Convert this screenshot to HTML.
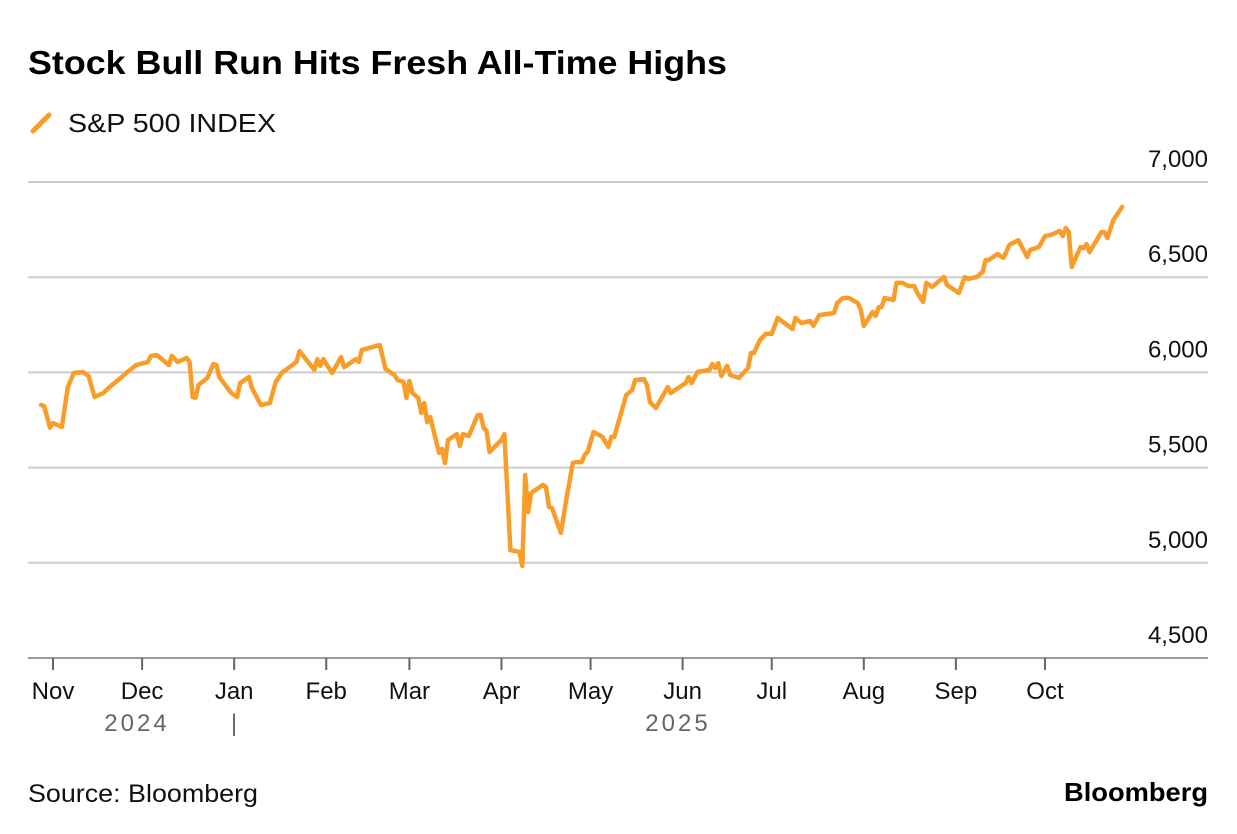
<!DOCTYPE html>
<html><head><meta charset="utf-8"><style>
html,body{margin:0;padding:0;background:#fff;}
svg{display:block;font-family:"Liberation Sans",Arial,sans-serif;}
</style></head><body>
<svg id="chart" width="1237" height="834" viewBox="0 0 1237 834" xmlns="http://www.w3.org/2000/svg">
<text x="28" y="74" font-size="33" font-weight="bold" fill="#000" textLength="699" lengthAdjust="spacingAndGlyphs">Stock Bull Run Hits Fresh All-Time Highs</text>
<g>
<line x1="33" y1="131" x2="49" y2="115" stroke="#F99D2A" stroke-width="5" stroke-linecap="round"/>
<text x="68" y="132" font-size="26" fill="#111" textLength="208" lengthAdjust="spacingAndGlyphs">S&amp;P 500 INDEX</text>
</g>
<g id="grid"></g>
<g id="xaxis"></g>
<path id="line" fill="none" stroke="#F99D2A" stroke-width="4.5" stroke-linejoin="round" stroke-linecap="round"/>
<text x="137" y="731" font-size="24" fill="#666" text-anchor="middle" letter-spacing="3">2024</text>
<text x="234" y="731" font-size="24" fill="#666" text-anchor="middle">|</text>
<text x="678" y="731" font-size="24" fill="#666" text-anchor="middle" letter-spacing="3">2025</text>
<text x="28" y="802" font-size="25" fill="#111" textLength="230" lengthAdjust="spacingAndGlyphs">Source: Bloomberg</text>
<text x="1064" y="801" font-size="26" font-weight="bold" fill="#000" textLength="144" lengthAdjust="spacingAndGlyphs">Bloomberg</text>
</svg>
<script>
const days = [-4,-3,-1,0,3,5,7,10,12,14,17,19,22,25,26,28,32,33,35,39,40,42,45,46,47,48,49,52,54,55,56,60,62,63,66,67,70,73,75,77,82,83,88,89,90,91,94,97,98,102,103,104,110,112,115,116,118,119,120,121,123,124,125,126,127,130,131,132,133,136,137,138,140,143,144,145,146,147,151,152,154,157,158,159,160,161,165,166,167,168,171,173,175,176,178,179,180,182,185,187,188,189,193,195,196,199,200,201,203,207,208,210,213,214,215,217,221,222,223,224,225,227,228,231,234,235,236,238,240,242,244,249,250,252,255,256,258,263,264,266,268,271,272,273,276,277,278,279,280,283,284,286,288,290,291,293,294,296,300,301,305,307,308,311,313,314,315,318,320,322,325,328,329,332,334,336,339,340,341,342,343,346,347,348,349,353,354,355,357,360];
const values = [5829,5823,5710,5734,5713,5923,5997,6002,5981,5871,5892,5923,5960,6002,6013,6039,6055,6086,6091,6039,6086,6055,6076,6055,5871,5866,5934,5971,6044,6039,5976,5892,5871,5944,5976,5918,5829,5839,5950,5997,6055,6112,6013,6070,6034,6070,5997,6081,6028,6070,6055,6118,6144,6018,5986,5960,5950,5866,5955,5892,5866,5787,5839,5739,5766,5577,5598,5524,5645,5676,5613,5676,5666,5776,5776,5708,5692,5582,5645,5676,5067,5057,4983,5461,5267,5367,5409,5398,5293,5288,5157,5346,5524,5529,5529,5566,5582,5687,5661,5608,5661,5661,5881,5908,5960,5965,5934,5844,5813,5923,5892,5913,5944,5976,5944,6002,6013,6044,6023,6049,5981,6034,5986,5971,6023,6102,6102,6170,6202,6202,6286,6228,6286,6259,6270,6244,6301,6312,6364,6391,6391,6364,6328,6244,6317,6296,6343,6343,6391,6380,6470,6470,6454,6454,6417,6370,6470,6449,6501,6459,6417,6501,6491,6501,6527,6590,6590,6622,6601,6669,6695,6606,6643,6659,6716,6722,6743,6716,6758,6737,6554,6659,6653,6674,6632,6737,6737,6706,6800,6869];
const yTicks = [4500,5000,5500,6000,6500,7000];
const yTickLabels = ["4,500","5,000","5,500","6,000","6,500","7,000"];
const monthLabels = ["Nov","Dec","Jan","Feb","Mar","Apr","May","Jun","Jul","Aug","Sep","Oct"];
const monthDays = [0,30,61,92,120,151,181,212,242,273,304,334];

const NS = "http://www.w3.org/2000/svg";
function xScale(d){ return 53 + d*2.97; }
function yScale(v){ return 658 - (v-4500)*95.2/500; }

const grid = document.getElementById('grid');
yTicks.forEach((t,i)=>{
  const y = yScale(t);
  const ln = document.createElementNS(NS,'line');
  ln.setAttribute('x1',28); ln.setAttribute('x2',1208);
  ln.setAttribute('y1',y); ln.setAttribute('y2',y);
  ln.setAttribute('stroke', i===0 ? '#999' : '#ccc');
  ln.setAttribute('stroke-width', 2);
  
  
  grid.appendChild(ln);
  const tx = document.createElementNS(NS,'text');
  tx.setAttribute('x',1208); tx.setAttribute('y',y-15);
  tx.setAttribute('text-anchor','end');
  tx.setAttribute('font-size','24'); tx.setAttribute('fill','#111');
  tx.textContent = yTickLabels[i];
  
  
  grid.appendChild(tx);
});

const xa = document.getElementById('xaxis');
monthDays.forEach((d,i)=>{
  const x = xScale(d);
  const tk = document.createElementNS(NS,'line');
  tk.setAttribute('x1',x); tk.setAttribute('x2',x);
  tk.setAttribute('y1',658); tk.setAttribute('y2',670);
  tk.setAttribute('stroke','#666'); tk.setAttribute('stroke-width',2);
  
  
  xa.appendChild(tk);
  const tx = document.createElementNS(NS,'text');
  tx.setAttribute('x',x); tx.setAttribute('y',699);
  tx.setAttribute('text-anchor','middle');
  tx.setAttribute('font-size','24'); tx.setAttribute('fill','#111');
  tx.textContent = monthLabels[i];
  
  
  xa.appendChild(tx);
});

let dstr = '';
days.forEach((d,i)=>{
  dstr += (i? 'L':'M') + xScale(d).toFixed(1) + ' ' + yScale(values[i]).toFixed(1);
});
document.getElementById('line').setAttribute('d', dstr);
</script>
</body></html>
